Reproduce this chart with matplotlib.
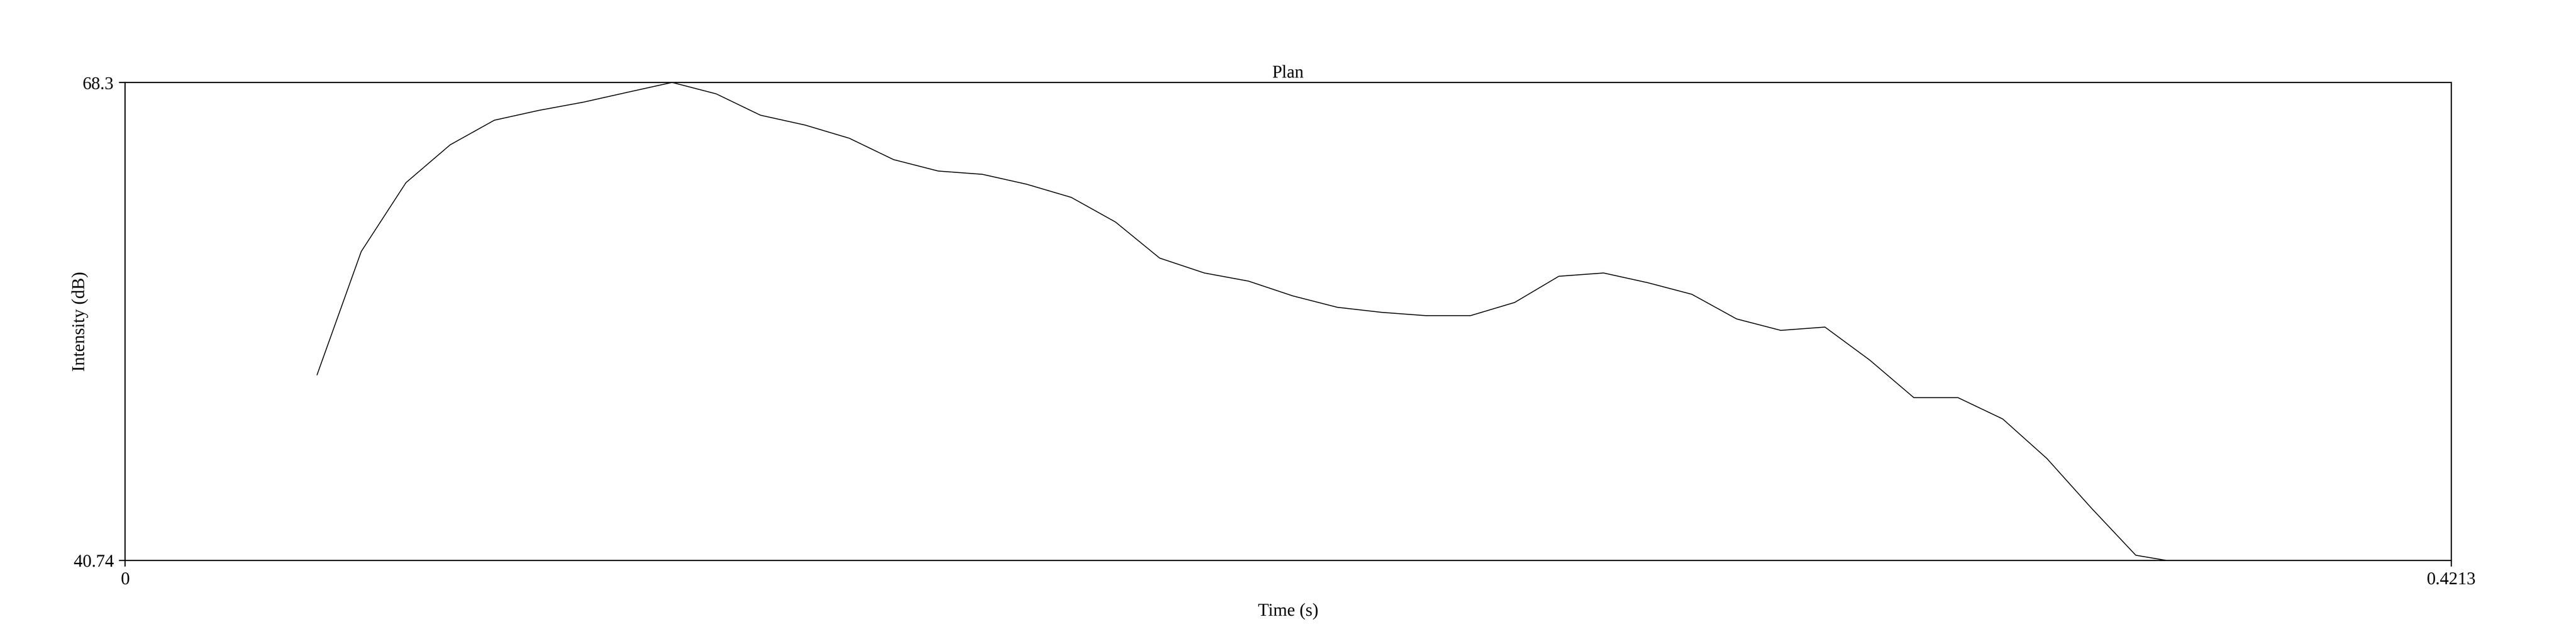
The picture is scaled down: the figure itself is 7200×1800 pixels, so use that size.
import matplotlib
matplotlib.use("Agg")
import matplotlib.pyplot as plt

plt.rcParams['font.family'] = ['Liberation Serif', 'DejaVu Serif']

time_s = [0.0348, 0.0428, 0.0509, 0.0589, 0.0669, 0.0750, 0.0830, 0.0910, 0.0991, 0.1071,
          0.1151, 0.1232, 0.1312, 0.1392, 0.1473, 0.1553, 0.1633, 0.1714, 0.1794, 0.1874,
          0.1955, 0.2035, 0.2115, 0.2196, 0.2276, 0.2356, 0.2437, 0.2517, 0.2597, 0.2678,
          0.2758, 0.2838, 0.2919, 0.2999, 0.3079, 0.3160, 0.3240, 0.3320, 0.3401, 0.3481,
          0.3561, 0.3642, 0.3722]
intensity_db = [51.44, 58.55, 62.52, 64.70, 66.12, 66.69, 67.16, 67.73, 68.30, 67.64,
                66.41, 65.84, 65.08, 63.85, 63.19, 63.00, 62.43, 61.67, 60.25, 58.17,
                57.31, 56.84, 55.99, 55.33, 55.04, 54.85, 54.85, 55.61, 57.12, 57.31,
                56.75, 56.08, 54.66, 54.00, 54.19, 52.29, 50.12, 50.12, 48.89, 46.61,
                43.77, 41.03, 40.60]

x_min, x_max = 0, 0.4213
y_min, y_max = 40.74, 68.3

fig = plt.figure(figsize=(24, 6), dpi=300)
ax = fig.add_axes([0.0485, 0.130, 0.903, 0.742])
ax.plot(time_s, intensity_db, color='black', linewidth=0.6)
ax.set_xlim(x_min, x_max)
ax.set_ylim(y_min, y_max)
ax.set_xticks([x_min, x_max])
ax.set_xticklabels(['0', '0.4213'])
ax.set_yticks([y_min, y_max])
ax.set_yticklabels(['40.74', '68.3'])
ax.tick_params(direction='out', length=4, width=0.8, labelsize=12)
for s in ax.spines.values():
    s.set_linewidth(0.8)
ax.set_title('Plan', fontsize=12, pad=3)
ax.set_xlabel('Time (s)', fontsize=12, labelpad=10)
ax.set_ylabel('Intensity (dB)', fontsize=12, labelpad=-10)

fig.savefig('out.png', dpi=300)
